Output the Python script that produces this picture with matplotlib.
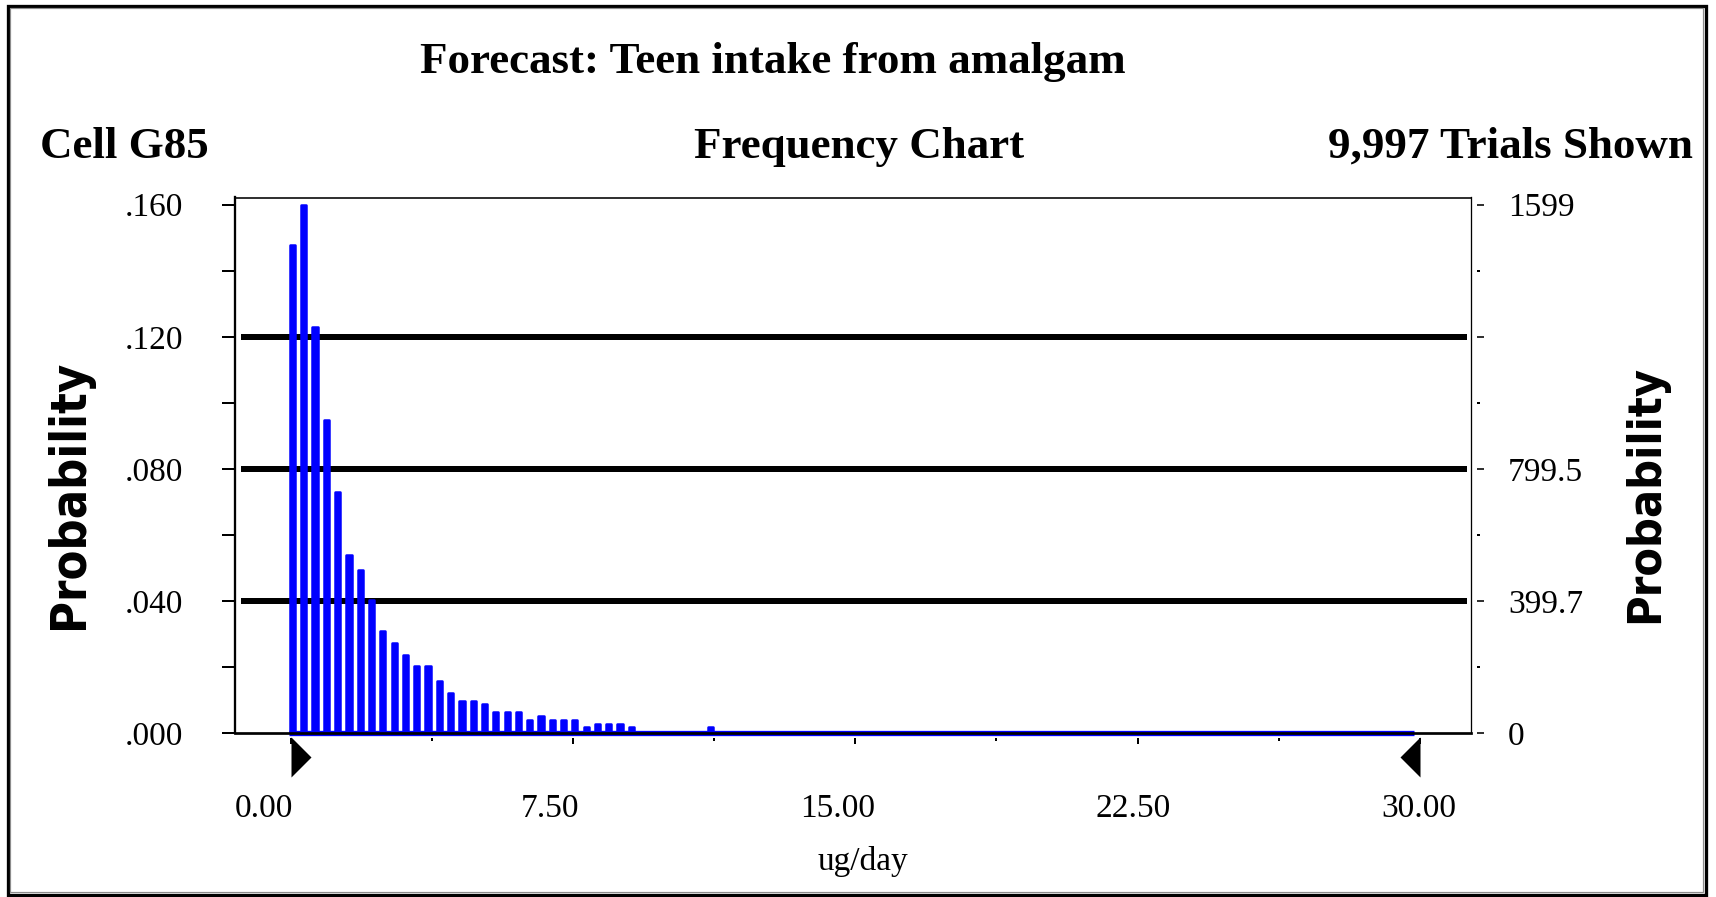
import matplotlib
matplotlib.use("Agg")
import matplotlib.pyplot as plt
import numpy as np
from matplotlib import font_manager
from matplotlib.font_manager import FontProperties
from matplotlib.transforms import ScaledTranslation, blended_transform_factory
from matplotlib.path import Path
from matplotlib.patches import Rectangle

# ------------------------------------------------------------------ data
title = "Forecast: Teen intake from amalgam"
cell_label = "Cell G85"
chart_label = "Frequency Chart"
trials_label = "9,997 Trials Shown"
x_label = "ug/day"
y_label = "Probability"

bin_width = 0.30          # ug/day per frequency cell
n_bins = 100              # cells between 0 and 30

probability = [
    0.1477, 0.1600, 0.1230, 0.0949, 0.0729, 0.0540, 0.0495, 0.0402, 0.0308, 0.0272,
    0.0237, 0.0203, 0.0203, 0.0157, 0.0121, 0.0098, 0.0098, 0.0089, 0.0064, 0.0064,
    0.0064, 0.0039, 0.0052, 0.0039, 0.0039, 0.0039, 0.0018, 0.0028, 0.0028, 0.0028,
    0.0018, 0.0000, 0.0000, 0.0000, 0.0000, 0.0000, 0.0000, 0.0018, 0.0000, 0.0000,
    0.0000, 0.0000, 0.0000, 0.0000, 0.0000, 0.0000, 0.0000, 0.0000, 0.0000, 0.0000,
    0.0000, 0.0000, 0.0000, 0.0000, 0.0000, 0.0000, 0.0000, 0.0000, 0.0000, 0.0000,
    0.0000, 0.0000, 0.0000, 0.0000, 0.0000, 0.0000, 0.0000, 0.0000, 0.0000, 0.0000,
    0.0000, 0.0000, 0.0000, 0.0000, 0.0000, 0.0000, 0.0000, 0.0000, 0.0000, 0.0000,
    0.0000, 0.0000, 0.0000, 0.0000, 0.0000, 0.0000, 0.0000, 0.0000, 0.0000, 0.0000,
    0.0000, 0.0000, 0.0000, 0.0000, 0.0000, 0.0000, 0.0000, 0.0000, 0.0000, 0.0000,
]

prob_ticks = [0.000, 0.040, 0.080, 0.120, 0.160]
prob_tick_labels = [".000", ".040", ".080", ".120", ".160"]
prob_minor_ticks = [0.020, 0.060, 0.100, 0.140]
grid_levels = [0.040, 0.080, 0.120]

count_ticks = [0, 399.7, 799.5, 1199.2, 1599]
count_tick_labels = ["0", "399.7", "799.5", "", "1599"]
count_minor_ticks = [199.9, 599.6, 999.4, 1399.1]

x_ticks = [0.0, 7.5, 15.0, 22.5, 30.0]
x_tick_labels = ["0.00", "7.50", "15.00", "22.50", "30.00"]
x_minor_ticks = [3.75, 11.25, 18.75, 26.25]

certainty_range = [0.0, 30.0]

# ------------------------------------------------------------------ style / layout
W, H, DPI = 1716, 897, 100
BLUE = "#0000ff"


def pt(p):
    """pixels -> points"""
    return p * 72.0 / DPI


plt.rcParams["font.family"] = ["Liberation Serif", "DejaVu Serif"]

fig = plt.figure(figsize=(W / DPI, H / DPI), dpi=DPI)
fig.patch.set_facecolor("white")

ax_l, ax_r, ax_t, ax_b = 234.7, 1471.0, 197.5, 733.2
ax_w, ax_h = ax_r - ax_l, ax_b - ax_t
ax = fig.add_axes([ax_l / W, 1 - ax_b / H, ax_w / W, ax_h / H])

x0_px, px_per_unit = 290.5, 37.65
ax.set_xlim((ax_l - x0_px) / px_per_unit, (ax_r - x0_px) / px_per_unit)
y_top = 0.16218
ax.set_ylim(0, y_top)

# bars
bin_left = np.arange(n_bins) * bin_width
bar_x = bin_left + 0.053
bar_w = 0.138
ax.bar(bar_x, probability, width=bar_w, color=BLUE, edgecolor=BLUE,
       linewidth=pt(2.5), joinstyle="round", zorder=3)

# blue base strip under all cells and the black axis base line
ax.hlines(0, bar_x[0] - 0.1, bar_x[-1] + 0.1, colors=BLUE, linewidth=pt(5.3),
          zorder=4, clip_on=False)
ax.axhline(0, color="black", linewidth=pt(2.7), zorder=5, clip_on=False)

# heavy horizontal grid lines
for g in grid_levels:
    ax.axhline(g, xmin=6.3 / ax_w, xmax=1 - 4.0 / ax_w, color="black",
               linewidth=pt(6), zorder=1, solid_capstyle="butt")

# spines
ax.spines["left"].set_linewidth(pt(2.3))
ax.spines["top"].set_linewidth(pt(1.6))
ax.spines["right"].set_linewidth(pt(1.3))
ax.spines["bottom"].set_position(("outward", pt(5)))
ax.spines["bottom"].set_visible(False)

# left (probability) axis
ax.set_yticks(prob_ticks)
ax.set_yticklabels(prob_tick_labels)
ax.set_yticks(prob_minor_ticks, minor=True)
ax.tick_params(axis="y", which="both", direction="out", length=pt(13),
               width=pt(2), pad=pt(38.4), labelsize=24, right=False)

# x axis
ax.set_xticks(x_ticks)
ax.set_xticklabels(x_tick_labels)
ax.set_xticks(x_minor_ticks, minor=True)
ax.tick_params(axis="x", which="major", direction="out", length=pt(6),
               width=pt(2), pad=pt(49), labelsize=24)
ax.tick_params(axis="x", which="minor", direction="out", length=pt(2.7),
               width=pt(2))
x_label_dx = [-26.8, -23.2, -17.5, -4.7, -0.8]
for lab, dx in zip(ax.get_xticklabels(), x_label_dx):
    lab.set_transform(lab.get_transform() +
                      ScaledTranslation(dx / DPI, 0, fig.dpi_scale_trans))

ax.set_xlabel(x_label, fontsize=24)
ax.xaxis.set_label_coords((863 - ax_l) / ax_w, (ax_b - 846) / ax_h)

# right (count) axis
count_scale = count_ticks[-1] / prob_ticks[-1]
ax2 = ax.twinx()
ax2.set_ylim(0, y_top * count_scale)
for s in ("left", "top", "bottom"):
    ax2.spines[s].set_visible(False)
ax2.spines["right"].set_position(("outward", pt(6)))
ax2.spines["right"].set_visible(False)
ax2.set_yticks(count_ticks)
ax2.set_yticklabels(count_tick_labels)
ax2.set_yticks(count_minor_ticks, minor=True)
ax2.tick_params(axis="y", which="major", direction="out", length=pt(7),
                width=pt(1.6), pad=pt(24), labelsize=24)
ax2.tick_params(axis="y", which="minor", direction="out", length=pt(2.5),
                width=pt(2))

# certainty range triangles
trans = blended_transform_factory(ax.transData, ax.transAxes)
y_tri = (ax_b - 756.7) / ax_h
right_tri = Path([(0, -1), (0, 1), (1, 0), (0, -1)],
                 [Path.MOVETO, Path.LINETO, Path.LINETO, Path.CLOSEPOLY])
left_tri = Path([(0, -1), (0, 1), (-1, 0), (0, -1)],
                [Path.MOVETO, Path.LINETO, Path.LINETO, Path.CLOSEPOLY])
ax.plot([certainty_range[0]], [y_tri], transform=trans, marker=right_tri,
        markersize=pt(40), color="black", markeredgewidth=0, linestyle="none",
        clip_on=False, zorder=6)
ax.plot([certainty_range[1]], [y_tri], transform=trans, marker=left_tri,
        markersize=pt(40), color="black", markeredgewidth=0, linestyle="none",
        clip_on=False, zorder=6)

# header texts
def fx(px):
    return px / W


def fy(py):
    return 1 - py / H


fig.text(fx(773.1), fy(73.3), title, ha="center", va="baseline",
         fontsize=32.4, fontweight="bold")
fig.text(fx(40), fy(158.3), cell_label, ha="left", va="baseline",
         fontsize=32.4, fontweight="bold")
fig.text(fx(859), fy(158.3), chart_label, ha="center", va="baseline",
         fontsize=32.4, fontweight="bold")
fig.text(fx(1693.3), fy(158.0), trials_label, ha="right", va="baseline",
         fontsize=32.4, fontweight="bold")


# "Probability" side labels in a heavy sans
def label_font():
    cands = ["DejaVuSansCondensed-Bold", "LiberationSansNarrow-Bold",
             "DejaVuSans-Bold"]
    for c in cands:
        for f in font_manager.fontManager.ttflist:
            if c.lower() in f.fname.lower().replace(" ", ""):
                return f.fname
    return None


fname = label_font()


def side_label(xb, yc, target_len):
    fp = FontProperties(fname=fname) if fname else FontProperties(
        family="DejaVu Sans", weight="bold")
    t = fig.text(fx(xb), fy(yc), y_label, rotation=90, rotation_mode="anchor",
                 ha="center", va="baseline", fontproperties=fp, fontsize=30)
    fig.canvas.draw()
    ext = t.get_window_extent()
    t.set_fontsize(30 * target_len / ext.height)
    return t


side_label(83.3, 494.5, 269)
side_label(1657.8, 494.0, 258)

# outer frame
fig.patches.append(Rectangle((fx(7.6), fy(895)), (1706 - 7.6) / W, (895 - 5.7) / H,
                             transform=fig.transFigure, fill=False,
                             edgecolor="black", linewidth=pt(3.3)))
fig.patches.append(Rectangle((fx(10.2), fy(892.3)), (1703.4 - 10.2) / W,
                             (892.3 - 8.3) / H, transform=fig.transFigure,
                             fill=False, edgecolor="#8c8c8c", linewidth=pt(1.2)))

fig.savefig("out.png", dpi=DPI)
